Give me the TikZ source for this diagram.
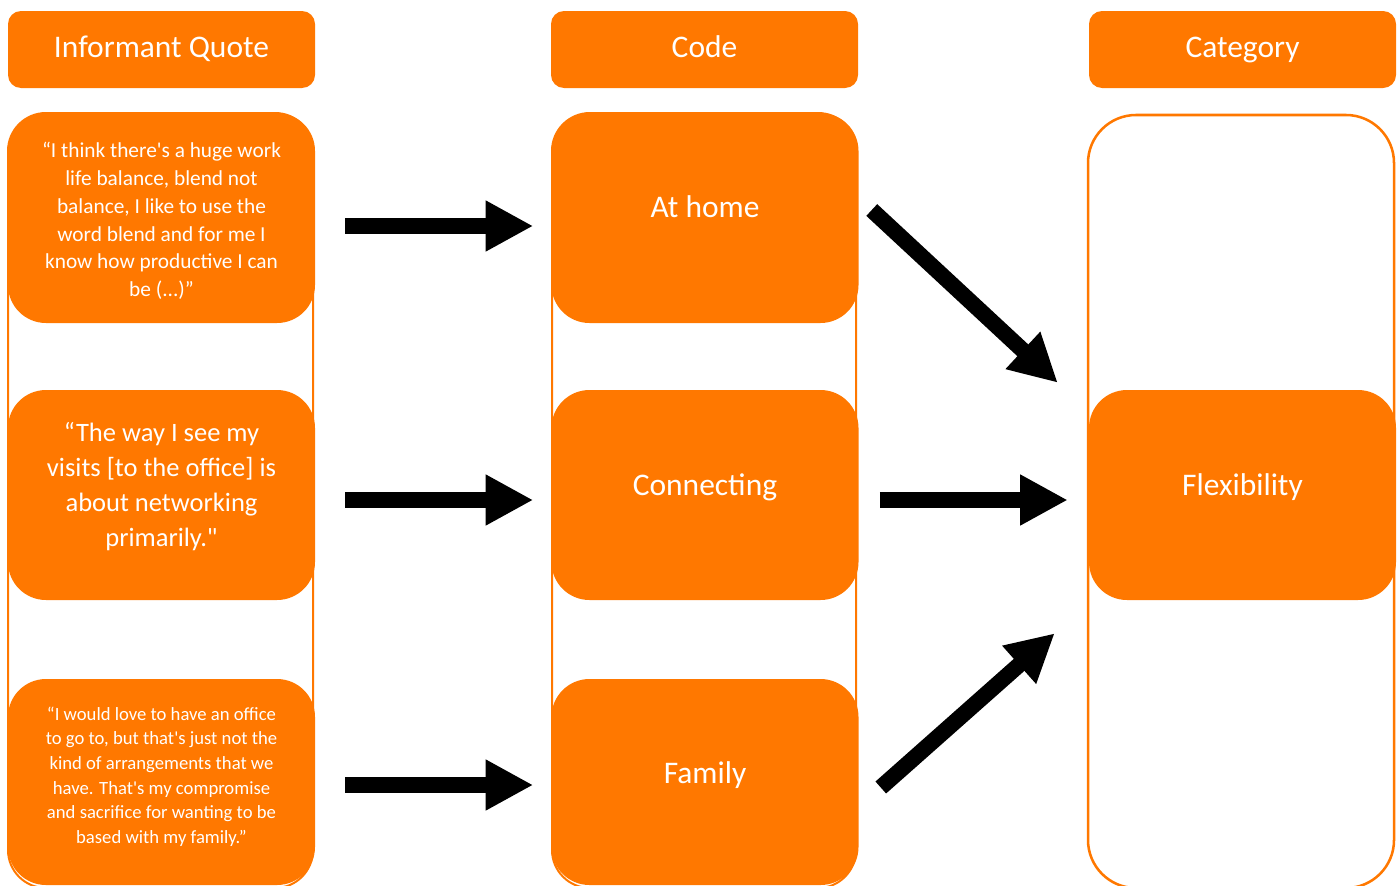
\documentclass[tikz,border=0pt]{standalone}
\usepackage{fontspec}
\setmainfont{Carlito}[Ligatures=TeXOff]
\usetikzlibrary{arrows.meta}
\definecolor{orng}{RGB}{255,120,0}
\begin{document}
\begin{tikzpicture}[x=0.75pt,y=-0.75pt,
  header/.style={fill=orng, rounded corners=9.75pt, minimum width=230.25pt,
    minimum height=57.75pt, inner sep=0pt},
  headtext/.style={text=white, font=\fontsize{23.6}{28}\selectfont,
    text height=0.68em, text depth=0.18em, inner sep=0pt},
  card/.style={fill=orng, rounded corners=28.5pt, minimum width=230.25pt,
    minimum height=157.5pt, inner sep=0pt},
  lastcard/.style={card, minimum height=154.5pt},
  codetext/.style={headtext},
  quotetext/.style={text=white, align=center, inner sep=0pt},
  lane/.style={draw=orng, line width=1.5pt, rounded corners=28.5pt},
  widelane/.style={draw=orng, line width=1.9pt, rounded corners=36pt},
  flow/.style={line width=12pt, line cap=butt,
    -{Triangle[length=35.7pt,width=35.7pt]}},
]
\useasboundingbox (0,0) rectangle (1398,885);

% column outlines
\draw[lane] (8,113) rectangle (313,888);
\draw[lane] (552,113) rectangle (856,888);
\draw[widelane] (1088,115) rectangle (1394,888);

% column headers
\node[header] (h1) at (161.5,49.5) {};
\node[header] (h2) at (704.5,49.5) {};
\node[header] (h3) at (1242.5,49.5) {};
\node[headtext] (ht1) at ([yshift=-3.75pt]h1.center) {Informant Quote};
\node[headtext] (ht2) at ([yshift=-3.75pt]h2.center) {Code};
\node[headtext] (ht3) at ([yshift=-3.75pt]h3.center) {Category};

% informant quotes
\node[card] (q1) at (161.5,218) {};
\node[card] (q2) at (161.5,495) {};
\node[lastcard] (q3) at (161.5,782) {};

\node[quotetext, font=\fontsize{16}{20.85}\selectfont] (t1) at ([yshift=-2.25pt]q1.center)
  {“I think there's a huge work\\life balance, blend not\\balance, I like to use the\\word blend and for me I\\know how productive I can\\be (...)”};
\node[quotetext, font=\fontsize{19.9}{26.4}\selectfont] (t2) at ([yshift=6.4pt]q2.center)
  {“The way I see my\\visits [to the office] is\\about networking\\primarily."};
\node[quotetext, font=\fontsize{14}{18.45}\selectfont] (t3) at ([yshift=4.1pt]q3.center)
  {“I would love to have an office\\to go to, but that's just not the\\kind of arrangements that we\\have. That's my compromise\\and sacrifice for wanting to be\\based with my family.”};

% codes
\node[card] (c1) at (705,218) {};
\node[card] (c2) at (705,495) {};
\node[lastcard] (c3) at (705,782) {};
\node[codetext] (l1) at ([yshift=3pt]c1.center) {At home};
\node[codetext] (l2) at ([yshift=2.25pt]c2.center) {Connecting};
\node[codetext] (l3) at ([yshift=1.5pt]c3.center) {Family};

% category
\node[card] (cat) at (1242.5,495) {};
\node[codetext] (l4) at ([yshift=2.25pt]cat.center) {Flexibility};

% connectors
\draw[flow] ([shift={(30,8)}]q1.east) -- ([shift={(-18,8)}]c1.west);
\draw[flow] ([shift={(30,5)}]q2.east) -- ([shift={(-18,5)}]c2.west);
\draw[flow] ([shift={(30,3)}]q3.east) -- ([shift={(-18,3)}]c3.west);
\draw[flow] ([shift={(13,-8)}]c1.east) -- ([shift={(-31,-7)}]cat.north west);
\draw[flow] ([shift={(21,5)}]c2.east) -- ([shift={(-21,5)}]cat.west);
\draw[flow] ([shift={(22,5.5)}]c3.east) -- ([shift={(-34,33)}]cat.south west);
\end{tikzpicture}
\end{document}
